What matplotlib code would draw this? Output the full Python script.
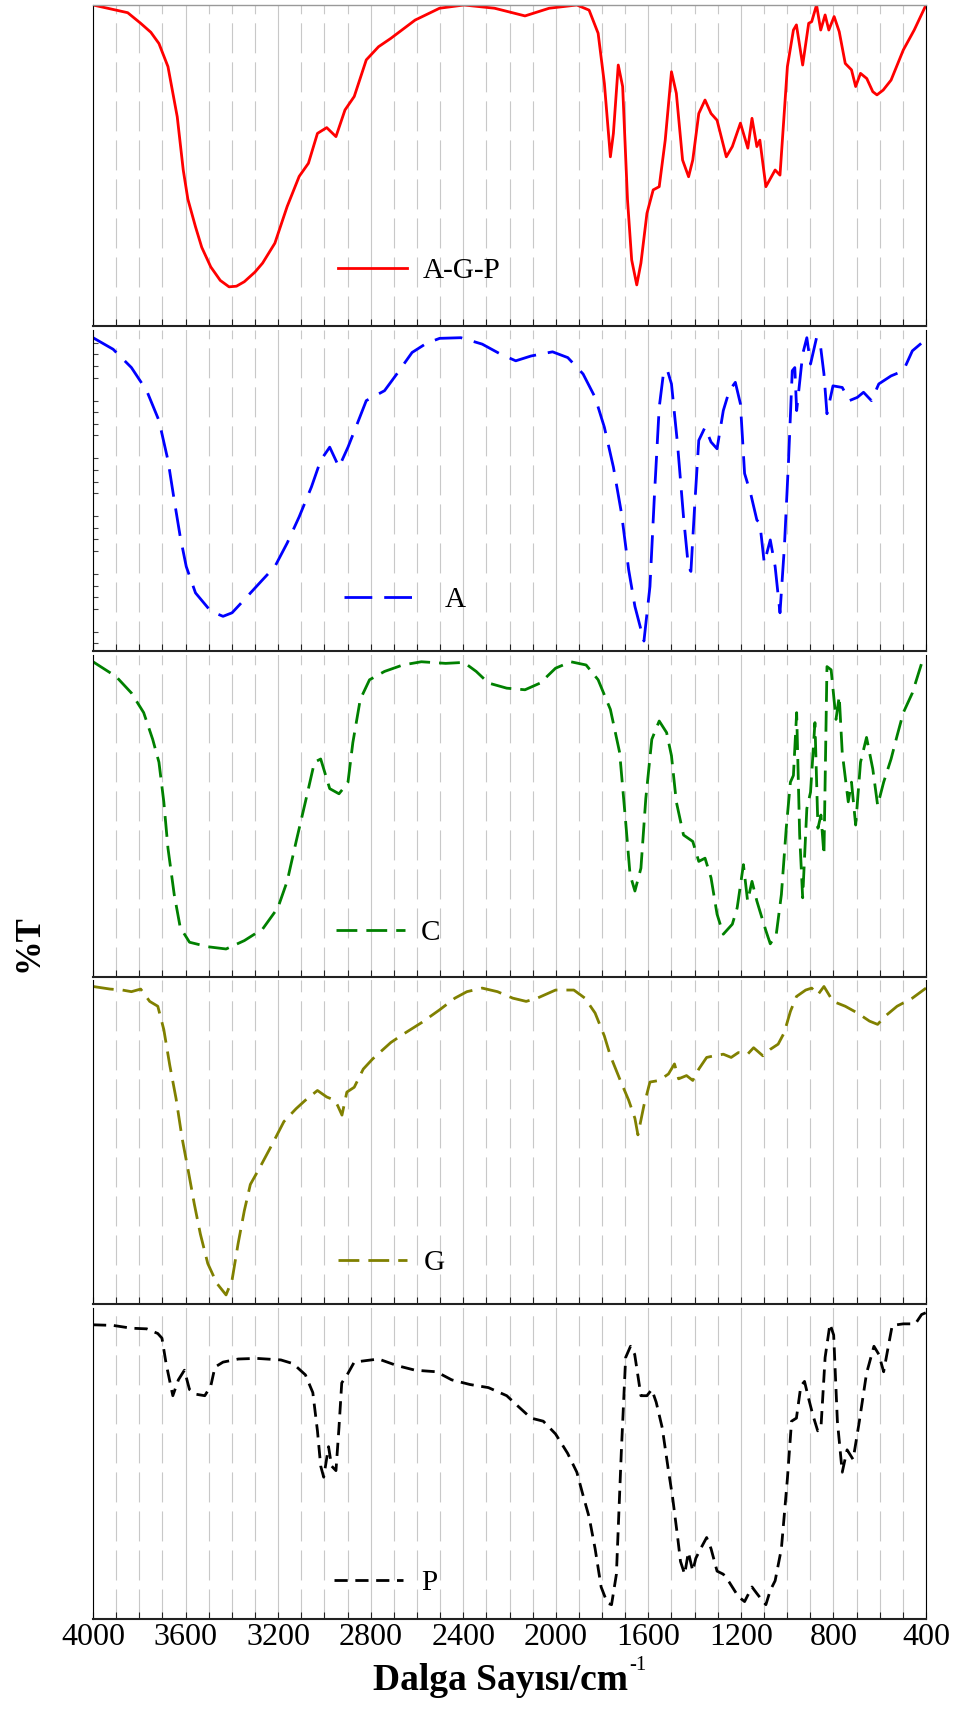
import matplotlib
matplotlib.use("Agg")
import matplotlib.pyplot as plt
import numpy as np
from matplotlib.ticker import MultipleLocator, FixedLocator, NullLocator

plt.rcParams['font.family'] = ['Liberation Serif', 'DejaVu Serif']
plt.rcParams['lines.scale_dashes'] = False

# ---------------- data (wavenumber cm-1, relative %T) ----------------
wn_agp = [4000, 3850, 3794, 3750, 3715, 3676, 3636, 3610, 3590, 3557, 3530, 3491, 3450, 3412, 3380, 3346,
          3300, 3267, 3214, 3161, 3109, 3069, 3030,
          2990, 2950, 2911, 2871, 2819, 2766, 2713, 2608, 2502, 2397, 2265, 2133, 2028, 1909, 1856, 1817,
          1790, 1764, 1751, 1730, 1711, 1690, 1672, 1650, 1632, 1606, 1579, 1553, 1527, 1500, 1479, 1452,
          1426, 1408, 1382, 1355, 1329, 1303, 1263, 1237, 1202, 1170, 1152, 1131, 1118, 1092, 1052, 1031,
          999, 973, 960, 933, 907, 894, 873, 855, 836, 820, 797, 775, 749, 722, 704, 683, 656, 630, 612,
          585, 551, 498, 451, 400]
t_agp = [100, 97.6, 94.3, 91.5, 88.0, 80.8, 65.2, 48.6, 39.5, 30.9, 24.5, 18.4, 14.2, 12.2, 12.4, 13.8,
         16.8, 19.6, 25.8, 37.2, 46.6, 50.7, 60.0,
         61.8, 59.0, 67.3, 71.5, 82.9, 87.0, 89.6, 95.3, 99.0, 100, 99.0, 96.6, 99.0, 100, 98.4, 91.2,
         75.6, 52.7, 60.0, 81.3, 74.6, 39.3, 20.6, 12.8, 19.6, 35.1, 42.4, 43.4, 57.9, 79.2, 72.5, 51.7,
         46.5, 51.7, 66.2, 70.4, 66.2, 64.1, 52.7, 55.9, 63.2, 55.4, 64.7, 55.9, 57.9, 43.4, 48.6, 47.0,
         80.8, 92.2, 93.8, 81.3, 94.3, 94.8, 100, 92.2, 96.9, 92.2, 96.4, 91.7, 81.8, 79.8, 74.6, 78.7,
         77.1, 73.0, 72.0, 73.5, 76.6, 86.0, 92.2, 100]

wn_a = [4000, 3913, 3834, 3768, 3715, 3676, 3649, 3623, 3597, 3557, 3491, 3438, 3399, 3346, 3267, 3214,
        3161, 3109, 3056, 3016, 2977, 2937, 2898, 2858, 2819, 2740, 2687, 2621, 2560, 2502, 2410, 2318,
        2239, 2173, 2107, 2014, 1948, 1882, 1830, 1790, 1751, 1716, 1685, 1658, 1619, 1593, 1574, 1553,
        1535, 1519, 1500, 1474, 1448, 1427, 1416, 1400, 1382, 1355, 1329, 1303, 1276, 1250, 1224, 1202,
        1184, 1158, 1131, 1118, 1099, 1073, 1052, 1031, 1012, 994, 978, 967, 959, 933, 915, 899, 873, 855,
        841, 828, 802, 762, 731, 697, 670, 636, 604, 551, 498, 459, 400]
t_a = [97.6, 94.0, 88.3, 81.1, 71.8, 59.4, 47.0, 35.6, 26.3, 18.1, 12.4, 10.8, 11.9, 16.0, 22.2, 26.3,
       33.6, 41.8, 51.1, 59.4, 63.5, 57.3, 63.5, 70.8, 78.0, 81.1, 86.3, 93.0, 95.8, 97.4, 97.6, 95.6,
       92.5, 90.4, 91.9, 93.2, 91.4, 86.3, 79.0, 69.7, 57.3, 42.9, 25.3, 13.9, 3.1, 20.1, 48.0, 75.9,
       86.3, 87.8, 83.2, 64.6, 41.8, 26.3, 24.8, 44.9, 65.6, 69.7, 65.1, 63.0, 74.9, 81.1, 83.7, 77.0,
       55.3, 49.1, 40.8, 39.8, 27.4, 34.6, 26.3, 11.9, 32.5, 59.4, 87.3, 88.3, 74.9, 92.5, 97.6, 89.4,
       97.6, 94.5, 86.3, 73.9, 82.6, 82.1, 78.0, 79.0, 80.6, 78.0, 83.2, 85.7, 87.3, 93.5, 97.1]

wn_c = [4000, 3900, 3834, 3781, 3742, 3715, 3694, 3676, 3649, 3623, 3583, 3504, 3425, 3346, 3267, 3201,
        3161, 3122, 3082, 3043, 3016, 2977, 2937, 2919, 2898, 2877, 2845, 2805, 2740, 2661, 2581, 2476,
        2397, 2344, 2291, 2212, 2133, 2067, 2001, 1935, 1869, 1817, 1764, 1724, 1698, 1679, 1658, 1632,
        1611, 1585, 1553, 1521, 1500, 1479, 1448, 1408, 1382, 1355, 1329, 1303, 1276, 1237, 1216, 1189,
        1171, 1152, 1131, 1118, 1092, 1073, 1047, 1025, 1004, 986, 973, 959, 946, 933, 915, 899, 880,
        867, 854, 841, 828, 810, 789, 775, 762, 736, 722, 704, 683, 657, 630, 609, 583, 551, 525, 498,
        459, 419, 400]
t_c = [97.9, 93.3, 88.2, 82.1, 73.8, 66.7, 54.4, 40.0, 25.6, 15.4, 10.8, 9.4, 8.7, 11.3, 14.9, 21.5,
       29.7, 42.1, 54.4, 66.7, 67.7, 58.5, 56.9, 58.5, 60.5, 72.8, 86.2, 92.3, 94.9, 96.9, 97.9, 97.4,
       97.7, 94.9, 91.3, 89.7, 89.2, 91.3, 95.9, 97.9, 96.9, 92.3, 83.1, 69.7, 48.2, 31.8, 26.7, 33.8,
       55.4, 73.8, 79.5, 75.9, 68.7, 54.4, 44.1, 42.1, 35.9, 36.9, 30.8, 19.5, 13.3, 16.4, 21.5, 34.9,
       23.6, 29.7, 23.6, 20.5, 14.4, 10.3, 13.3, 25.6, 46.2, 60.5, 62.6, 82.1, 44.1, 24.6, 52.3, 57.4,
       79.0, 46.2, 50.3, 37.9, 96.4, 95.4, 80.0, 87.2, 69.7, 54.4, 60.5, 47.2, 66.7, 74.4, 64.6, 53.3,
       60.5, 67.7, 74.9, 82.1, 88.2, 97.4, 97.6]

wn_g = [4000, 3926, 3873, 3834, 3794, 3755, 3720, 3694, 3668, 3641, 3615, 3588, 3562, 3536, 3504, 3465,
        3425, 3399, 3373, 3346, 3320, 3280, 3227, 3175, 3122, 3082, 3030, 2990, 2956, 2943, 2924, 2903,
        2871, 2832, 2792, 2713, 2661, 2581, 2502, 2436, 2384, 2318, 2252, 2186, 2128, 2080, 2001, 1922,
        1874, 1830, 1790, 1764, 1724, 1685, 1658, 1645, 1619, 1593, 1553, 1513, 1487, 1469, 1435, 1408,
        1382, 1348, 1316, 1276, 1242, 1211, 1171, 1145, 1105, 1073, 1039, 1013, 986, 960, 920, 894, 868,
        841, 802, 749, 696, 644, 609, 577, 525, 459, 400]
t_g = [98.0, 97.2, 96.9, 96.4, 97.2, 93.4, 91.9, 84.7, 73.6, 63.4, 51.2, 41.0, 30.8, 21.6, 12.5, 6.4,
       2.8, 7.4, 18.6, 28.8, 36.9, 42.0, 49.1, 56.3, 60.3, 62.9, 65.9, 63.9, 62.9, 61.3, 58.3, 65.4,
       66.9, 72.5, 75.6, 80.7, 83.2, 86.8, 90.8, 94.4, 96.4, 97.5, 96.4, 94.4, 93.4, 94.4, 96.9, 96.9,
       94.4, 89.8, 82.7, 76.6, 69.5, 62.9, 57.3, 52.2, 61.3, 68.5, 69.0, 71.0, 74.1, 69.5, 70.5, 69.0,
       72.5, 76.1, 76.6, 77.1, 76.1, 77.6, 77.1, 79.1, 76.6, 78.6, 80.2, 83.7, 90.3, 94.9, 96.9, 97.5,
       95.4, 98.0, 93.4, 91.9, 89.8, 87.3, 86.3, 88.8, 91.9, 94.4, 97.5]

wn_p = [4000, 3913, 3834, 3768, 3720, 3702, 3684, 3655, 3631, 3605, 3583, 3557, 3517, 3491, 3473, 3438,
        3372, 3293, 3188, 3135, 3082, 3050, 3030, 3016, 3003, 2982, 2969, 2950, 2937, 2925, 2898, 2871,
        2819, 2766, 2687, 2608, 2516, 2450, 2371, 2291, 2212, 2160, 2107, 2054, 2001, 1949, 1909, 1883,
        1856, 1830, 1804, 1777, 1759, 1738, 1717, 1698, 1677, 1659, 1632, 1606, 1585, 1566, 1540, 1514,
        1495, 1474, 1461, 1443, 1427, 1408, 1395, 1374, 1348, 1329, 1303, 1276, 1250, 1211, 1184, 1152,
        1131, 1110, 1092, 1073, 1052, 1025, 999, 981, 960, 941, 925, 907, 889, 868, 854, 836, 815, 799,
        783, 762, 741, 715, 688, 657, 625, 604, 583, 564, 546, 498, 446, 419, 400]
t_p = [94.6, 94.4, 93.5, 93.3, 91.8, 90.3, 82.1, 71.8, 76.9, 80.0, 73.8, 72.3, 71.8, 74.9, 81.0, 82.6,
       83.6, 83.8, 83.3, 82.1, 78.5, 72.8, 60.5, 49.2, 45.6, 55.4, 49.2, 47.7, 61.5, 75.9, 79.0, 82.6,
       83.1, 83.6, 81.5, 80.0, 79.5, 76.9, 75.4, 74.4, 71.8, 68.2, 64.6, 63.6, 59.5, 53.3, 47.2, 40.0,
       32.8, 22.6, 10.3, 5.1, 4.6, 14.4, 53.3, 84.1, 87.7, 85.1, 71.8, 71.8, 73.8, 69.7, 61.5, 48.2,
       39.0, 26.7, 18.5, 14.4, 21.5, 15.4, 19.5, 22.6, 26.2, 22.6, 15.4, 14.4, 11.8, 7.2, 5.6, 10.3,
       8.2, 6.2, 4.6, 9.2, 12.3, 22.6, 45.1, 63.6, 64.6, 74.9, 76.4, 70.8, 65.6, 60.5, 61.5, 84.1,
       94.9, 91.3, 63.6, 47.2, 54.4, 51.3, 63.6, 79.0, 87.7, 85.1, 79.5, 87.2, 94.4, 94.9, 94.9, 97.9,
       98.5]

labels = ['A-G-P', 'A', 'C', 'G', 'P']
colors = ['#ff0000', '#0000ff', '#008000', '#808000', '#000000']
x_ticks = [4000, 3600, 3200, 2800, 2400, 2000, 1600, 1200, 800, 400]

series = [(wn_agp, t_agp), (wn_a, t_a), (wn_c, t_c), (wn_g, t_g), (wn_p, t_p)]
styles = ['-', (0, (20, 8.6)), (0, (15, 6.5)), (0, (15, 6.5)), (0, (9.5, 5.5))]
# panel (top, bottom) in pixels
panels_px = [(5, 326), (330, 651), (655, 977), (980, 1304), (1308, 1619)]
leg_y_px = [271, 600, 933, 1263, 1583]
leg_x = [0.294, 0.301, 0.292, 0.294, 0.289]
leg_pad = [0.55, 1.1, 0.55, 0.58, 0.65]

# ---------------- layout ----------------
W, H = 957, 1736
fig = plt.figure(figsize=(W / 100, H / 100), dpi=100)
left_px, right_px = 93, 926

grid_c = '#c8c8c8'
for i in range(5):
    t0, b0 = panels_px[i]
    ph = b0 - t0
    ax = fig.add_axes([left_px / W, 1 - b0 / H, (right_px - left_px) / W, ph / H])
    wn, tt = series[i]
    ax.plot(wn, tt, color=colors[i], lw=2.0, linestyle=styles[i], label=labels[i],
            solid_joinstyle='round', dash_joinstyle='round', dash_capstyle='butt')
    ax.set_xlim(4000, 400)
    ax.set_ylim(0, 100)
    ax.xaxis.set_major_locator(FixedLocator(x_ticks))
    ax.xaxis.set_minor_locator(MultipleLocator(100))
    ax.set_axisbelow(True)
    ax.grid(which='major', axis='x', color=grid_c, lw=0.8, linestyle='-')
    ax.grid(which='minor', axis='x', color=grid_c, lw=0.8, linestyle=(0, (21.6, 6.5)))
    ax.tick_params(axis='x', which='both', direction='in', length=5, width=0.8, color='#222222',
                   top=False, bottom=True, labelsize=23, pad=3)
    if i < 4:
        ax.tick_params(axis='x', labelbottom=False)
    if i == 1:
        majors = np.arange(9.6, 100, 18.0)
        minors = [m for m in np.arange(2.4, 100, 3.6) if np.min(np.abs(majors - m)) > 1.0]
        ax.yaxis.set_major_locator(FixedLocator(majors))
        ax.yaxis.set_minor_locator(FixedLocator(minors))
        ax.tick_params(axis='y', which='major', length=0, labelleft=False)
        ax.tick_params(axis='y', which='minor', direction='in', length=3.5, width=0.8, color='#444444')
    else:
        ax.yaxis.set_major_locator(NullLocator())
        ax.yaxis.set_minor_locator(NullLocator())
    for s in ['left', 'right']:
        ax.spines[s].set_color('black')
        ax.spines[s].set_linewidth(0.8)
    ax.spines['bottom'].set_color('#222222')
    ax.spines['bottom'].set_linewidth(1.5)
    if i == 0:
        ax.spines['top'].set_color('#999999')
        ax.spines['top'].set_linewidth(1.0)
    else:
        ax.spines['top'].set_visible(False)
    leg_y = (b0 - leg_y_px[i]) / ph
    ax.legend(loc='center left', bbox_to_anchor=(leg_x[i], leg_y), frameon=False, borderpad=0,
              borderaxespad=0, handlelength=2.36, handletextpad=leg_pad[i],
              prop={'family': 'Liberation Serif', 'size': 21})

# y label
fig.text(0.030, 1 - 943 / H, '%T', rotation=90, fontsize=25, fontweight='bold',
         ha='center', va='center')

# x label with superscript
renderer = fig.canvas.get_renderer()
base_y = 1 - 1690 / H
main = fig.text(0, base_y, 'Dalga Sayısı/cm', fontsize=27, fontweight='bold',
                ha='left', va='baseline')
sup = fig.text(0, base_y, '-1', fontsize=15, fontweight='normal', ha='left', va='baseline')
bm = main.get_window_extent(renderer)
bs = sup.get_window_extent(renderer)
total = bm.width + 1 + bs.width
cx = (left_px + right_px) / 2
x0 = cx - total / 2
main.set_x(x0 / W)
sup.set_x((x0 + bm.width + 1) / W)
sup.set_y(1 - 1670 / H)

fig.savefig('out.png', dpi=100)
